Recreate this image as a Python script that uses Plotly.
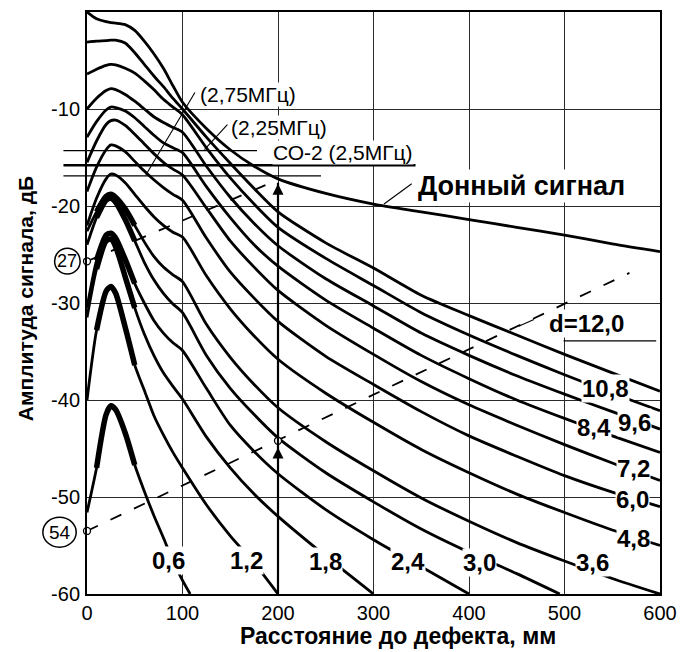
import plotly.graph_objects as go

# Distance along the beam, mm
X_MM = [0, 10, 20, 25, 30, 40, 50, 60, 70, 80, 90, 100, 125, 150, 175, 200,
        250, 300, 350, 400, 450, 500, 550, 600]

# Back-wall echo amplitude, dB
BACK_WALL = [0.0, -0.7, -1.0, -1.1, -1.15, -1.3, -1.9, -3.0, -4.3, -5.8, -7.6, -9.3,
             -12.0, -14.2, -15.9, -17.2, -18.7, -19.8, -20.6, -21.4, -22.2, -23.0, -23.9, -24.7]

# Flat-bottom reflector curves (d, mm), dB
D12_0 = [-3.1, -3.0, -2.95, -2.9, -2.9, -3.2, -4.2, -5.4, -6.6, -7.7, -8.9, -10.0,
         -12.9, -15.6, -18.2, -20.6, -23.8, -26.4, -29.2, -31.3, -33.3, -35.3, -37.2, -39.1]
D10_8 = [-6.4, -5.9, -5.5, -5.4, -5.45, -5.8, -6.3, -7.1, -8.0, -9.0, -9.8, -10.6,
         -14.0, -17.1, -19.8, -22.2, -25.4, -28.2, -31.0, -33.3, -35.4, -37.4, -39.3, -41.1]
D9_6 = [-10.0, -8.9, -8.1, -7.9, -8.0, -8.5, -9.2, -10.0, -10.8, -11.4, -11.9, -12.4,
        -15.9, -19.1, -21.8, -24.1, -27.5, -30.3, -33.1, -35.4, -37.5, -39.4, -41.2, -43.0]
D8_4 = [-12.9, -11.3, -10.1, -9.8, -9.85, -10.2, -10.9, -11.8, -12.7, -13.5, -14.0, -14.5,
        -18.0, -21.2, -24.0, -26.2, -29.7, -32.6, -35.4, -37.8, -40.0, -41.9, -43.7, -45.4]
D7_2 = [-15.5, -13.3, -11.6, -11.2, -11.15, -11.7, -12.6, -13.6, -14.6, -15.5, -16.2, -16.8,
        -20.2, -23.6, -26.3, -28.7, -32.3, -35.3, -38.1, -40.5, -42.6, -44.6, -46.5, -48.3]
D6_0 = [-18.5, -16.0, -14.2, -13.7, -13.8, -14.4, -15.4, -16.4, -17.3, -18.1, -18.8, -19.4,
        -23.3, -26.8, -29.5, -31.9, -35.5, -38.4, -41.2, -43.7, -45.8, -47.8, -49.5, -51.0]
D4_8 = [-22.0, -19.2, -17.2, -16.7, -16.8, -17.6, -18.8, -20.0, -21.1, -22.0, -22.7, -23.2,
        -27.2, -30.6, -33.4, -35.8, -39.3, -42.3, -45.1, -47.5, -49.7, -51.6, -53.4, -55.0]
D3_6 = [-22.6, -20.6, -19.0, -18.8, -19.1, -20.3, -22.0, -23.7, -25.2, -26.3, -27.1, -27.8,
        -32.2, -35.6, -38.4, -40.8, -44.3, -47.3, -50.1, -52.5, -54.7, -56.6, -58.4, -60.0]
X_3_0 = [0, 10, 20, 25, 30, 40, 50, 60, 70, 80, 90, 100, 125, 150, 175, 200,
         250, 300, 350, 400, 450, 495]
D3_0 = [-24.0, -21.2, -19.4, -19.2, -19.6, -21.4, -23.6, -25.8, -27.6, -29.0, -30.1, -31.0,
        -35.4, -38.8, -41.5, -43.9, -47.5, -50.5, -53.3, -55.7, -57.9, -60.0]
X_2_4 = [0, 10, 20, 25, 30, 40, 50, 60, 70, 80, 90, 100, 125, 150, 175, 200,
         250, 300, 350, 400]
D2_4 = [-30.5, -25.6, -23.0, -22.8, -23.3, -25.5, -28.0, -30.0, -31.8, -33.1, -34.1, -34.9,
        -38.8, -42.6, -45.3, -47.6, -51.3, -54.4, -57.2, -60.0]
X_1_8 = [0, 10, 20, 25, 30, 40, 50, 60, 70, 80, 90, 100, 125, 150, 175, 200, 250, 300]
D1_8 = [-31.5, -26.5, -23.6, -23.4, -24.2, -27.3, -30.5, -33.2, -35.4, -37.2, -38.6, -39.9,
        -43.8, -47.0, -49.7, -52.0, -56.1, -60.0]
X_1_2 = [0, 10, 20, 25, 30, 40, 50, 60, 70, 80, 90, 100, 125, 150, 175, 200]
D1_2 = [-40.0, -32.8, -28.8, -28.3, -29.0, -32.5, -36.4, -39.0, -41.6, -43.6, -45.4, -47.0,
        -50.8, -54.0, -56.8, -60.0]
X_0_6 = [0, 10, 20, 25, 30, 40, 50, 60, 70, 80, 90, 100, 108]
D0_6 = [-51.6, -47.0, -41.5, -40.6, -41.0, -43.4, -46.7, -49.4, -51.9, -54.2, -56.6, -58.6, -60.0]

# Curve labels: text, x (mm), y (dB)
CURVE_LABELS = ["0,6", "1,2", "1,8", "2,4", "3,0", "3,6", "4,8", "6,0", "7,2", "8,4", "9,6", "10,8", "d=12,0"]
LABEL_X = [85, 167.5, 249.7, 336, 411, 529, 572, 571, 572, 531, 573, 543, 523]
LABEL_Y = [-56.5, -56.5, -56.6, -56.6, -56.8, -56.8, -54.3, -50.3, -47.1, -42.8, -42.3, -38.8, -32.1]

# Sensitivity reference levels (dB) and their right ends (mm)
REF_LEVELS = [-14.3, -15.8, -16.9]
REF_ENDS = [178, 344, 245]
REF_WIDTHS = [1.3, 2.6, 1.3]

# Gain-setting lines through the circled points
GAIN_LINE_A_X = [0, 200]
GAIN_LINE_A_Y = [-25.7, -17.3]
GAIN_LINE_B_X = [0, 568]
GAIN_LINE_B_Y = [-53.5, -26.9]
POINTS_X = [0, 0, 200]
POINTS_Y = [-25.7, -53.5, -44.2]

X_TICKS = [0, 100, 200, 300, 400, 500, 600]
Y_TICKS = [-10, -20, -30, -40, -50, -60]

FONT = "Liberation Sans, Arial, sans-serif"
BLACK = "#000000"

# plot-area geometry in pixels, for items placed outside the axes
PLOT_L, PLOT_W, PLOT_B, PLOT_H = 87, 584, 594, 584


def px_x(px):
    return (px - PLOT_L) / PLOT_W


def px_y(py):
    return (PLOT_B - py) / PLOT_H


fig = go.Figure()

curves = [
    (X_MM, BACK_WALL, False), (X_MM, D12_0, False), (X_MM, D10_8, False),
    (X_MM, D9_6, False), (X_MM, D8_4, False), (X_MM, D7_2, False),
    (X_MM, D6_0, False), (X_MM, D4_8, False), (X_MM, D3_6, True),
    (X_3_0, D3_0, True), (X_2_4, D2_4, True), (X_1_8, D1_8, True),
    (X_1_2, D1_2, True), (X_0_6, D0_6, True),
]

for xs, ys, thick_peak in curves:
    fig.add_trace(go.Scatter(
        x=xs, y=ys, mode="lines",
        line=dict(color=BLACK, width=2.8, shape="spline", smoothing=0.7),
        hoverinfo="skip", showlegend=False))
    if thick_peak:
        # heavier pen over the near-field hump
        fig.add_trace(go.Scatter(
            x=xs[1:7], y=ys[1:7], mode="lines",
            line=dict(color=BLACK, width=5.5, shape="spline", smoothing=0.7),
            hoverinfo="skip", showlegend=False))

for gx, gy in [(GAIN_LINE_A_X, GAIN_LINE_A_Y), (GAIN_LINE_B_X, GAIN_LINE_B_Y)]:
    fig.add_trace(go.Scatter(
        x=gx, y=gy, mode="lines",
        line=dict(color=BLACK, width=1.8, dash="12px,14px"),
        hoverinfo="skip", showlegend=False))

fig.add_trace(go.Scatter(
    x=POINTS_X, y=POINTS_Y, mode="markers", cliponaxis=False,
    marker=dict(symbol="circle", size=7, color="white", line=dict(color=BLACK, width=1.3)),
    hoverinfo="skip", showlegend=False))

shapes = []
# reference levels reach past the left axis
for lvl, end, w in zip(REF_LEVELS, REF_ENDS, REF_WIDTHS):
    shapes.append(dict(type="line", xref="paper", yref="y",
                       x0=px_x(63), x1=end / 600, y0=lvl, y1=lvl,
                       line=dict(color=BLACK, width=w), layer="above"))
# short rule under the d=12,0 label
shapes.append(dict(type="line", xref="x", yref="y", x0=499, x1=596, y0=-33.9, y1=-33.9,
                   line=dict(color=BLACK, width=1.3)))
# vertical pointer at 200 mm
shapes.append(dict(type="line", xref="x", yref="y", x0=200, x1=200, y0=-60, y1=-17.6,
                   line=dict(color=BLACK, width=2.2), layer="above"))
# leader lines
for x0, y0, x1, y1 in [(113, -8.3, 61.6, -16.8), (147, -11.6, 123, -14.2),
                       (311, -19.8, 340, -17.7), (452, -32.4, 468, -31.7)]:
    shapes.append(dict(type="line", xref="x", yref="y", x0=x0, y0=y0, x1=x1, y1=y1,
                       line=dict(color=BLACK, width=1.1), layer="above"))
# rings round the gain numbers
shapes.append(dict(type="circle", xref="paper", yref="paper",
                   x0=px_x(54), x1=px_x(80), y0=px_y(273), y1=px_y(247),
                   line=dict(color=BLACK, width=1.5)))
shapes.append(dict(type="circle", xref="paper", yref="paper",
                   x0=px_x(42), x1=px_x(76), y0=px_y(547), y1=px_y(517),
                   line=dict(color=BLACK, width=1.5)))

annotations = []
for txt, lx, ly in zip(CURVE_LABELS, LABEL_X, LABEL_Y):
    annotations.append(dict(x=lx, y=ly, xref="x", yref="y", text=txt, showarrow=False,
                            xanchor="center", yanchor="middle",
                            font=dict(family=FONT, size=24, color=BLACK, weight="bold"),
                            bgcolor="white", borderpad=0))
annotations.append(dict(x=455, y=-17.9, xref="x", yref="y", text="Донный сигнал",
                        showarrow=False, bgcolor="white", borderpad=1,
                        xanchor="center", yanchor="middle",
                        font=dict(family=FONT, size=27, color=BLACK, weight="bold")))
for txt, lx, ly in [("(2,75МГц)", 168.5, -8.5), ("(2,25МГц)", 201, -11.9),
                    ("СО-2 (2,5МГц)", 268, -14.5)]:
    annotations.append(dict(x=lx, y=ly, xref="x", yref="y", text=txt, showarrow=False,
                            bgcolor="white", borderpad=0,
                            xanchor="center", yanchor="middle",
                            font=dict(family=FONT, size=21, color=BLACK)))
# arrowheads on the 200 mm pointer
for tip, tail in [(-17.7, -23.0), (-44.9, -50.0)]:
    annotations.append(dict(x=200, y=tip, ax=200, ay=tail, xref="x", yref="y",
                            axref="x", ayref="y", text="", showarrow=True,
                            arrowhead=2, arrowsize=1.1, arrowwidth=2, arrowcolor=BLACK))
annotations.append(dict(x=px_x(67), y=px_y(260), xref="paper", yref="paper",
                        xanchor="center", yanchor="middle",
                        text="27", showarrow=False, font=dict(family=FONT, size=18, color=BLACK)))
annotations.append(dict(x=px_x(59), y=px_y(532), xref="paper", yref="paper",
                        xanchor="center", yanchor="middle",
                        text="54", showarrow=False, font=dict(family=FONT, size=19, color=BLACK)))
annotations.append(dict(x=326, y=px_y(636), xref="x", yref="paper",
                        xanchor="center", yanchor="middle",
                        text="Расстояние до дефекта, мм", showarrow=False,
                        font=dict(family=FONT, size=23, color=BLACK, weight="bold")))
annotations.append(dict(x=px_x(24), y=px_y(298), xref="paper", yref="paper",
                        xanchor="center", yanchor="middle",
                        text="Амплитуда сигнала, дБ", showarrow=False, textangle=-90,
                        font=dict(family=FONT, size=21, color=BLACK, weight="bold")))

fig.update_layout(
    width=687, height=652, autosize=False,
    margin=dict(l=87, r=16, t=10, b=58),
    paper_bgcolor="white", plot_bgcolor="white",
    shapes=shapes, annotations=annotations,
    font=dict(family=FONT, color=BLACK),
    xaxis=dict(range=[0, 600], tickvals=X_TICKS, ticktext=[str(v) for v in X_TICKS],
               showgrid=True, gridcolor="#2a2a2a", gridwidth=1.4, zeroline=False,
               showline=True, mirror=True, linecolor=BLACK, linewidth=2,
               ticks="", ticklabelstandoff=0, ticklabeloverflow="allow",
               tickfont=dict(size=20, color=BLACK)),
    yaxis=dict(range=[-60, 0], tickvals=Y_TICKS, ticktext=[str(v) for v in Y_TICKS],
               showgrid=True, gridcolor="#2a2a2a", gridwidth=1.4, zeroline=False,
               showline=True, mirror=True, linecolor=BLACK, linewidth=2,
               ticks="", ticklabelstandoff=1, ticklabeloverflow="allow",
               tickfont=dict(size=20, color=BLACK)),
)

fig.write_html("out.html")
